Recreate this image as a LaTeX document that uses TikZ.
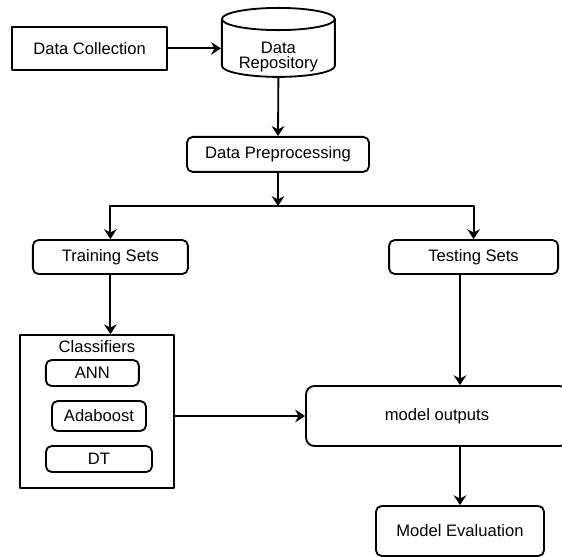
\documentclass[tikz,border=0pt]{standalone}
\usepackage{fontspec}
\setmainfont{Liberation Sans}
\usetikzlibrary{arrows.meta,shapes}
\tikzset{
  every picture/.style={line join=round, >={Stealth[length=7pt,width=9pt]}},
  sqbox/.style={draw, line width=1.3pt, inner sep=0pt},
  rbox/.style={draw, line width=1.3pt, rounded corners=4pt, inner sep=0pt},
  repo/.style={draw, line width=1.3pt, cylinder, shape border rotate=90, aspect=0.28,
    minimum width=2.825cm, minimum height=1.725cm, inner sep=0pt},
  flow/.style={->, line width=1.3pt},
}

\begin{document}
\begin{tikzpicture}[font=\fontsize{11.8}{13.5}\selectfont]
\useasboundingbox (0,0) rectangle (14.05,-13.9);
% top row
\node[sqbox, minimum width=3.875cm, minimum height=1.075cm] (col) at (2.24,-1.21) {Data Collection};
\node[repo] (rep) at (6.96,-1.21) {\phantom{Repository}};
\node[align=center, font=\fontsize{11.8}{10.5}\selectfont] (reptxt) at (6.96,-1.42) {Data\\Repository};
\node[rbox, minimum width=4.55cm, minimum height=0.875cm] (prep) at (6.95,-3.86) {Data Preprocessing};
\coordinate (jn) at (6.95,-5.15);
% the two sets
\node[rbox, minimum width=3.875cm, minimum height=0.85cm] (trn) at (2.76,-6.425) {Training Sets};
\node[rbox, minimum width=4.225cm, minimum height=0.85cm] (tst) at (11.84,-6.425) {Testing Sets};
% classifiers
\node[sqbox, minimum width=3.85cm, minimum height=3.825cm] (cls) at (2.425,-10.29) {};
\node (clab) at (2.425,-8.675) {Classifiers};
\node[rbox, minimum width=2.325cm, minimum height=0.65cm] (ann) at (2.31,-9.325) {ANN};
\node[rbox, minimum width=2.35cm, minimum height=0.75cm] (ada) at (2.475,-10.4) {Adaboost};
\node[rbox, minimum width=2.65cm, minimum height=0.65cm] (dt) at (2.475,-11.475) {DT};
% outputs
\node[rbox, rounded corners=6pt, minimum width=6.55cm, minimum height=1.5cm] (out) at (10.925,-10.4) {model outputs};
\node[rbox, minimum width=4.2cm, minimum height=1.25cm] (eval) at (11.5,-13.275) {Model Evaluation};

\draw[flow] (col.east |- rep.west) -- (rep.west);
\draw[flow] (rep.south) -- (prep.north);
\draw[flow] (prep.south) -- (jn);
\draw[flow] (jn) -| (trn.north);
\draw[flow] (jn) -| (tst.north);
\draw[flow] (trn.south) -- (trn.south |- cls.north);
\draw[flow] (cls.east |- out.west) -- (out.west);
\draw[flow] (tst.south -| eval.north) -- (out.north -| eval.north);
\draw[flow] (out.south -| eval.north) -- (eval.north);
\end{tikzpicture}
\end{document}
